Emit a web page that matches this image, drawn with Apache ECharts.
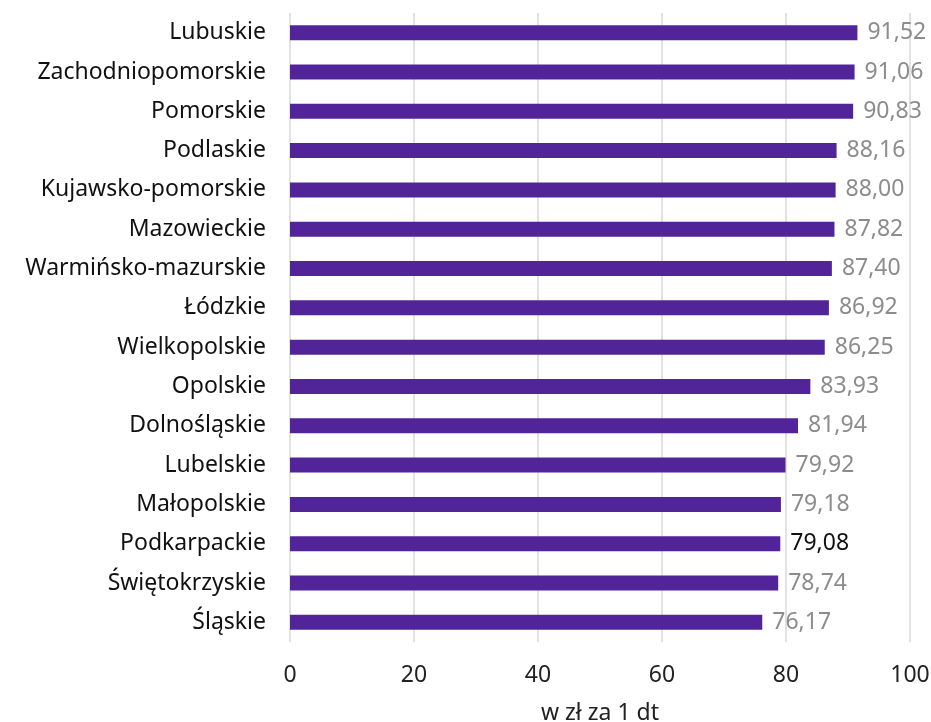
<!DOCTYPE html>
<html>
<head>
<meta charset="utf-8">
<script src="https://cdn.jsdelivr.net/npm/echarts@6/dist/echarts.min.js"></script>
<style>
  html, body { margin: 0; padding: 0; background: #fff; }
  #chart { width: 931px; height: 722px; }
</style>
</head>
<body>
<div id="chart"></div>
<script>
// wojewodztwa, od gory do dolu
const regions = ['Lubuskie', 'Zachodniopomorskie', 'Pomorskie', 'Podlaskie', 'Kujawsko-pomorskie',
  'Mazowieckie', 'Warmińsko-mazurskie', 'Łódzkie', 'Wielkopolskie', 'Opolskie', 'Dolnośląskie',
  'Lubelskie', 'Małopolskie', 'Podkarpackie', 'Świętokrzyskie', 'Śląskie']
const prices = [91.52, 91.06, 90.83, 88.16, 88.00, 87.82, 87.40, 86.92, 86.25, 83.93, 81.94,
  79.92, 79.18, 79.08, 78.74, 76.17]
const highlighted = 'Podkarpackie'
const axisName = 'w zł za 1 dt'

const font = 'Noto Sans'
let myChart = echarts.init(document.getElementById('chart'))
myChart.setOption({
  animation: false,
  grid: {
    left: 290,
    right: 21,
    top: 13,
    bottom: 80,
    containLabel: false,
    outerBoundsMode: 'none'
  },
  xAxis: {
    type: 'value',
    min: 0,
    max: 100,
    interval: 20,
    name: axisName,
    nameLocation: 'middle',
    nameGap: 60,
    nameTextStyle: { color: '#222', fontSize: 23, fontFamily: font },
    axisLine: { show: false },
    axisTick: { show: false },
    axisLabel: { color: '#222', fontSize: 23, fontFamily: font, margin: 22 },
    splitLine: { lineStyle: { color: '#d9d9d9', width: 1.5 } }
  },
  yAxis: {
    type: 'category',
    inverse: true,
    data: regions,
    axisLine: { show: false },
    axisTick: { show: false },
    axisLabel: { color: '#111', fontSize: 23, fontFamily: font, margin: 24 }
  },
  series: [
    {
      type: 'bar',
      barWidth: 15,
      itemStyle: { color: '#52249a' },
      data: prices.map((v, i) => ({
        value: v,
        label: regions[i] === highlighted ? { color: '#111' } : undefined
      })),
      label: {
        show: true,
        position: 'right',
        distance: 10,
        color: '#8c8c8c',
        fontSize: 23,
        fontFamily: font,
        formatter: (p) => p.value.toFixed(2).replace('.', ',')
      }
    }
  ]
})
</script>
</body>
</html>
